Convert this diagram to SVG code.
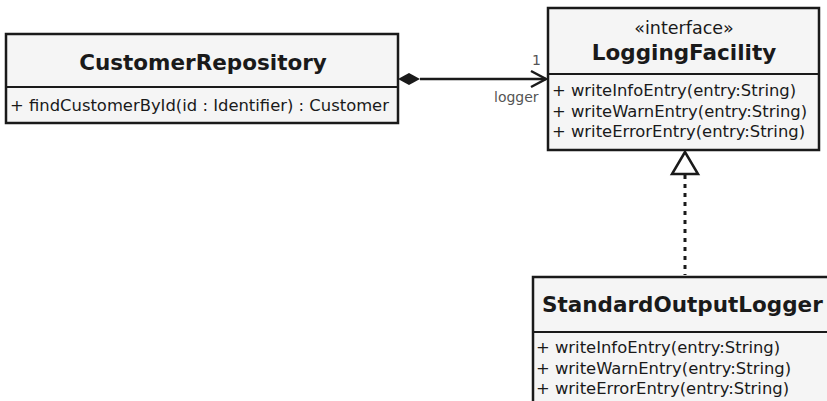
<svg xmlns="http://www.w3.org/2000/svg" width="827" height="401" viewBox="0 0 827 401">
<style>
.box{fill:#f5f5f5;stroke:#1a1a1a;stroke-width:2.5}
.div{stroke:#1a1a1a;stroke-width:2}
.t{font-family:"DejaVu Sans",Verdana,sans-serif;font-weight:bold;font-size:21.5px;fill:#1a1a1a;text-anchor:middle}
.m{font-family:"DejaVu Sans",Verdana,sans-serif;font-size:16.4px;fill:#1a1a1a}
.s{font-family:"DejaVu Sans",Verdana,sans-serif;font-size:17.5px;fill:#1a1a1a;text-anchor:middle}
.l{font-family:"DejaVu Sans",Verdana,sans-serif;font-size:14px;fill:#555}
</style>
<rect width="827" height="401" fill="#fff"/>
<g id="CustomerRepository">
<rect class="box" x="6" y="34" width="392" height="89"/>
<line class="div" x1="6" y1="87" x2="398" y2="87"/>
<text class="t" x="203" y="70">CustomerRepository</text>
<text class="m" x="10" y="111">+ findCustomerById(id : Identifier) : Customer</text>
</g>
<g id="LoggingFacility">
<rect class="box" x="548" y="8" width="271" height="142"/>
<line class="div" x1="548" y1="74" x2="819" y2="74"/>
<text class="s" x="684" y="34">«interface»</text>
<text class="t" x="684" y="60">LoggingFacility</text>
<text class="m" x="552" y="96">+ writeInfoEntry(entry:String)</text>
<text class="m" x="552" y="117">+ writeWarnEntry(entry:String)</text>
<text class="m" x="552" y="137">+ writeErrorEntry(entry:String)</text>
</g>
<g id="StandardOutputLogger">
<rect class="box" x="533" y="277" width="310" height="140"/>
<line class="div" x1="533" y1="332" x2="843" y2="332"/>
<text class="t" x="542" y="312" style="text-anchor:start">StandardOutputLogger</text>
<text class="m" x="536" y="353">+ writeInfoEntry(entry:String)</text>
<text class="m" x="536" y="374">+ writeWarnEntry(entry:String)</text>
<text class="m" x="536" y="394">+ writeErrorEntry(entry:String)</text>
</g>
<g id="connectors">
<line x1="420" y1="79" x2="546" y2="79" stroke="#1a1a1a" stroke-width="2.5"/>
<polygon points="398,79 409,73 420,79 409,85" fill="#1a1a1a"/>
<polyline points="531,71 546,79 531,87" fill="none" stroke="#1a1a1a" stroke-width="2.5"/>
<text class="l" x="532" y="65">1</text>
<text class="l" x="494" y="102">logger</text>
<line x1="685" y1="175" x2="685" y2="275" stroke="#1a1a1a" stroke-width="3" stroke-dasharray="4,5"/>
<polygon points="685,152 672,174 698,174" fill="#fff" stroke="#1a1a1a" stroke-width="2.5"/>
</g>
</svg>
